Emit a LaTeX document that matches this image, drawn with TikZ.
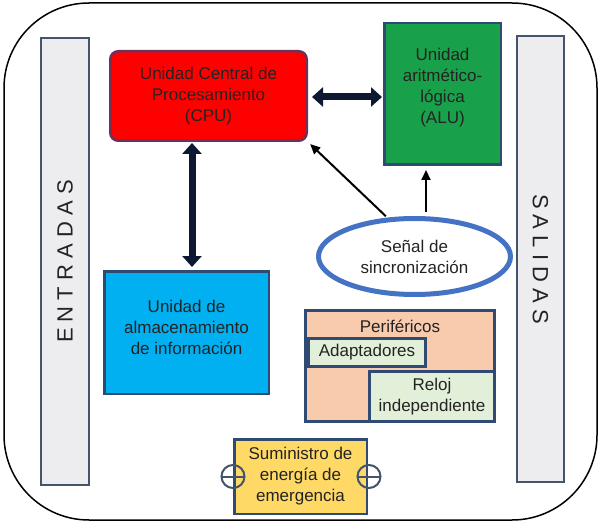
\documentclass[tikz,border=0pt]{standalone}
\usepackage{fontspec}
\setmainfont{Liberation Sans}
\usetikzlibrary{arrows.meta,shapes.geometric}
\definecolor{rojo}{RGB}{255,0,0}
\definecolor{bordecpu}{RGB}{110,50,90}
\definecolor{verde}{RGB}{25,160,75}
\definecolor{celeste}{RGB}{0,176,240}
\definecolor{borde}{RGB}{47,75,115}
\definecolor{gris}{RGB}{237,237,240}
\definecolor{bordegris}{RGB}{68,84,106}
\definecolor{salmon}{RGB}{248,203,173}
\definecolor{verdeclaro}{RGB}{226,240,217}
\definecolor{amarillo}{RGB}{255,217,102}
\definecolor{azulelipse}{RGB}{68,114,196}
\definecolor{marino}{RGB}{13,25,50}
\definecolor{texto}{RGB}{35,35,35}
\begin{document}
\begin{tikzpicture}[x=1pt,y=-1pt] % computadora
\tikzstyle{every node} = [font=\fontsize{17}{21}\selectfont, text=texto] % texto general
\tikzstyle{caja} = [draw=borde, line width=2.5pt, inner sep=0pt, align=center] % bloque rectangular
\tikzstyle{txt} = [align=center, inner sep=0pt] % texto desplazado dentro de un bloque
\tikzstyle{barra} = [draw=bordegris, fill=gris, line width=2pt, inner sep=0pt, font=\fontsize{22}{26}\selectfont] % entradas / salidas
\tikzstyle{bus} = [line width=7pt, draw=marino, {Triangle[width=19pt,length=11pt]}-{Triangle[width=19pt,length=11pt]}] % flecha doble gruesa
\tikzstyle{flecha} = [line width=2pt, -{Triangle[width=9pt,length=10pt]}] % flecha fina
\tikzstyle{borne} = [circle, draw=bordegris, line width=2pt, minimum size=23pt, inner sep=0pt, outer sep=0pt] % borne de la fuente
\useasboundingbox (0,0) rectangle (604,529);
\draw[line width=1.5pt, rounded corners=85pt] (4,3) rectangle (597,520); % marco exterior
\node[barra, rotate=90, minimum width=447pt, minimum height=48pt] (entradas) at (65,261.5) {E N T R A D A S};
\node[barra, rotate=-90, minimum width=446pt, minimum height=47pt] (salidas) at (540.5,259) {S A L I D A S};
\node[caja, fill=rojo, draw=bordecpu, rounded corners=8pt, minimum width=196.5pt, minimum height=89.5pt] (cpu) at (208.5,96) {Unidad Central de\\Procesamiento\\(CPU)};
\node[caja, fill=verde, minimum width=116.5pt, minimum height=141.5pt,
    label={[txt, yshift=6.5pt]center:Unidad\\aritmético-\\lógica\\(ALU)}] (alu) at (442.5,94) {};
\node[caja, fill=celeste, minimum width=164.5pt, minimum height=122.5pt,
    label={[txt, yshift=5.5pt]center:Unidad de\\almacenamiento\\de información}] (mem) at (186.5,332.5) {};
\node[ellipse, draw=azulelipse, line width=5pt, minimum width=192pt, minimum height=76pt, inner sep=0pt, align=center] (sinc) at (414.5,256.5) {Señal de\\sincronización};
\node[caja, fill=salmon, line width=3pt, minimum width=189pt, minimum height=111pt,
    label={[txt, anchor=center, yshift=-17pt]north:Periféricos}] (peri) at (400,366) {};
\node[caja, fill=verdeclaro, line width=3pt, minimum width=117pt, minimum height=28pt] (adapt) at (367,352.5) {Adaptadores};
\node[caja, fill=verdeclaro, line width=3pt, minimum width=125pt, minimum height=50pt] (reloj) at (432,396.5) {Reloj\\independiente};
\node[caja, fill=amarillo, minimum width=132.5pt, minimum height=74.5pt] (sum) at (300.5,476.5) {Suministro de\\energía de\\emergencia};
\node[borne] (bizq) at (sum.west) {}; % bornes
\node[borne] (bder) at ([xshift=1pt]sum.east) {};
\draw[bordegris, line width=2pt] (bizq.west) -- (bizq.east);
\draw[bordegris, line width=2pt] (bder.west) -- (bder.east);
% buses
\coordinate (b1) at ([xshift=-16.5pt]cpu.south);
\coordinate (b2) at ([yshift=-1pt]cpu.east);
\draw[bus, shorten <=1pt, shorten >=3pt] (b1) -- (b1 |- mem.north);
\draw[bus, shorten <=4pt, shorten >=1pt] (b2) -- (b2 -| alu.west);
% sincronizacion
\coordinate (s1) at ([xshift=11.5pt]sinc.north);
\draw[flecha, shorten <=2pt, shorten >=3pt] (sinc.125) -- (cpu.south east);
\draw[flecha, shorten <=4pt, shorten >=4pt] (s1) -- (s1 |- alu.south);
\end{tikzpicture}
\end{document}
